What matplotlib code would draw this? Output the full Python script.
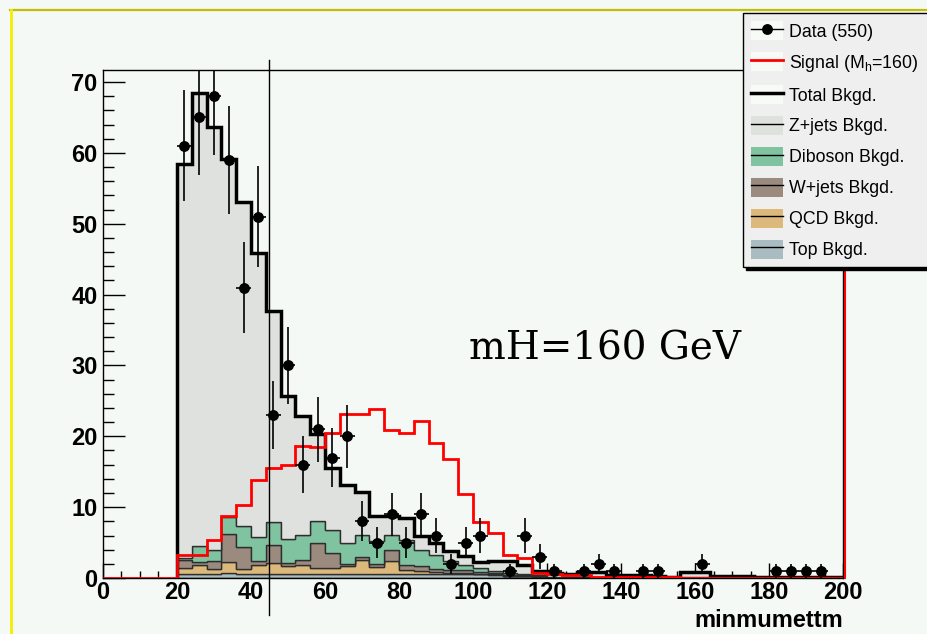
import numpy as np
import matplotlib
matplotlib.use("Agg")
import matplotlib.pyplot as plt
import matplotlib.transforms as mtransforms
from matplotlib.lines import Line2D
from matplotlib.patches import Patch
from matplotlib.legend_handler import HandlerTuple
from matplotlib.ticker import MultipleLocator

plt.rcParams["font.family"] = "Liberation Sans"
plt.rcParams["font.weight"] = "bold"
plt.rcParams["mathtext.fontset"] = "custom"
plt.rcParams["mathtext.rm"] = "Liberation Sans:weight=normal"
plt.rcParams["mathtext.it"] = "Liberation Sans:italic:weight=normal"

# binning: 4 GeV bins, backgrounds start at 20
BIN_W = 4
bkg_edges = np.arange(20, 201, BIN_W)
sig_edges = np.arange(0, 201, BIN_W)

data_counts = [61, 65, 68, 59, 41, 51, 23, 30, 16, 21, 17, 20, 8, 5, 9, 5, 9, 6, 2, 5,
               6, 0, 1, 6, 3, 1, 0, 1, 2, 1, 0, 1, 1, 0, 0, 2, 0, 0, 0, 0,
               1, 1, 1, 1, 0]

signal = [0, 0, 0, 0, 0,
          3.3, 3.3, 5.3, 8.8, 10.3, 13.8, 15.5, 15.9, 18.7, 18.5,
          20.4, 23.1, 23.1, 23.8, 20.9, 20.4, 22.2, 19.0, 16.8, 11.8,
          7.9, 6.3, 3.3, 2.8, 0.75, 0.6, 0.4, 0.4, 0.15, 0.15,
          0.1, 0.1, 0.1, 0.1, 0.05, 0.05, 0.05, 0.05, 0.05, 0.03,
          0.03, 0.03, 0.03, 0.03, 0.03]

top_bkg = [0.5, 0.5, 0.5, 0.75, 0.5, 0.5, 0.5, 0.5, 0.5, 0.5,
           0.5, 0.5, 0.5, 0.5, 0.6, 0.5, 0.5, 0.5, 0.5, 0.5,
           0.5, 0.4, 0.3, 0.3, 0.2, 0.1, 0.1, 0.1, 0.1, 0.1,
           0.1, 0.1, 0.1, 0.1, 0.1, 0.1, 0.1, 0.1, 0.1, 0.1,
           0.1, 0.1, 0.1, 0.1, 0.1]
qcd_bkg = [0.95, 1.3, 0.8, 1.55, 0.8, 1.3, 1.55, 1.2, 1.3, 0.9,
           0.9, 1.2, 2.0, 1.0, 1.8, 0.6, 0.5, 0.3, 0.2, 0.2,
           0.1, 0.1, 0.05, 0.05, 0.05, 0.01, 0.01, 0.01, 0.01, 0.01,
           0.01, 0.01, 0.01, 0.01, 0.01, 0.01, 0.01, 0.01, 0.01, 0.01,
           0.01, 0.01, 0.01, 0.01, 0.01]
wjets_bkg = [1.05, 0.5, 1.15, 3.9, 3.1, 0.6, 2.6, 0.4, 0.8, 3.5,
             2.2, 0.3, 0.4, 0.5, 1.55, 0.7, 0.7, 0.5, 0.4, 0.4,
             0.3, 0.2, 0.1, 0.1, 0.05, 0.02, 0.02, 0.02, 0.02, 0.02,
             0.02, 0.02, 0.02, 0.02, 0.02, 0.02, 0.02, 0.02, 0.02, 0.02,
             0.02, 0.02, 0.02, 0.02, 0.02]
diboson_bkg = [0.3, 2.2, 1.55, 2.4, 2.9, 3.4, 3.25, 3.4, 3.5, 3.2,
               3.2, 2.9, 3.2, 3.2, 2.1, 3.6, 2.25, 1.95, 1.3, 0.7,
               0.5, 0.3, 0.2, 0.15, 0.1, 0.03, 0.03, 0.03, 0.03, 0.03,
               0.03, 0.03, 0.03, 0.03, 0.03, 0.03, 0.03, 0.03, 0.03, 0.03,
               0.03, 0.03, 0.03, 0.03, 0.03]
zjets_bkg = [55.6, 63.9, 59.7, 50.5, 45.7, 40.1, 29.8, 20.2, 16.7, 12.2,
             8.7, 8.2, 6.1, 3.55, 2.75, 3.1, 1.95, 1.75, 1.4, 1.3,
             0.9, 1.4, 1.75, 1.2, 0.6, 0.54, 0.44, 0.74, 0.74, 0.24,
             0.24, 0.24, 0.14, 0.04, 0.74, 0.74, 0.14, 0.14, 0.14, 0.0,
             0.0, 0.0, 0.0, 0.0, 0.0]

cut_value = 45
n_data = 550

BG = "#f5f9f6"
EDGE = "#2e2e2e"

fig = plt.figure(figsize=(9.27, 6.34), dpi=100, facecolor=BG)
ax = fig.add_axes([0.1111, 0.0883, 0.7983, 0.8013], facecolor=BG)

# stacked backgrounds, bottom to top
layers = [
    ("Top Bkgd.", top_bkg, "#a8bcc2"),
    ("QCD Bkgd.", qcd_bkg, "#dcb97b"),
    ("W+jets Bkgd.", wjets_bkg, "#9b8b7f"),
    ("Diboson Bkgd.", diboson_bkg, "#7fc3a1"),
    ("Z+jets Bkgd.", zjets_bkg, "#dfe1de"),
]
lower = np.zeros(len(bkg_edges) - 1)
for name, vals, col in layers:
    upper = lower + np.asarray(vals)
    ax.stairs(upper, bkg_edges, baseline=lower, fill=True,
              facecolor=col, edgecolor=EDGE, lw=1.0, zorder=2)
    lower = upper
total = lower
ax.stairs(total, bkg_edges, baseline=0, color="black", lw=2.5, zorder=3)

# signal
ax.stairs(signal, sig_edges, baseline=None, color="red", lw=2, zorder=4)
off = mtransforms.ScaledTranslation(1.3 / 72, 0, fig.dpi_scale_trans)
ax.plot([sig_edges[-1]] * 2, [0, 1], transform=ax.get_xaxis_transform() + off,
        color="red", lw=1.5, clip_on=False, zorder=4)

# data
counts = np.asarray(data_counts, dtype=float)
centers = bkg_edges[:-1] + BIN_W / 2
m = counts > 0
ax.errorbar(centers[m], counts[m], yerr=np.sqrt(counts[m]), xerr=BIN_W / 2,
            fmt="o", color="black", ms=6.8, elinewidth=1.2, capsize=0, zorder=5)

# cut line
ax.plot([cut_value] * 2, [-0.073, 1.02], transform=ax.get_xaxis_transform(),
        color="black", lw=1, clip_on=False, zorder=6)

ax.text(99, 30.8, "mH=160 GeV", family="DejaVu Serif", fontweight="normal",
        fontsize=28, va="baseline")

ax.set_xlim(0, 200)
ax.set_ylim(0, 71.7)
ax.xaxis.set_major_locator(MultipleLocator(20))
ax.xaxis.set_minor_locator(MultipleLocator(5))
ax.yaxis.set_major_locator(MultipleLocator(10))
ax.yaxis.set_minor_locator(MultipleLocator(2))
ax.tick_params(axis="y", which="major", direction="in", length=15.8, width=1,
               labelsize=17, pad=4)
ax.tick_params(axis="y", which="minor", direction="in", length=7.9, width=1)
ax.tick_params(axis="x", which="major", direction="in", length=10.8, width=1,
               labelsize=17, pad=2)
ax.tick_params(axis="x", which="minor", direction="in", length=5.4, width=1)
ax.tick_params(top=False, right=False, which="both")
for s in ax.spines.values():
    s.set_linewidth(1)
ax.set_xlabel("minmumettm", fontsize=17, fontweight="bold", loc="right", labelpad=4)

# legend
white = "#f8faf8"
handles = [
    (Patch(fc=white, ec="none"), Line2D([], [], color="k", marker="o", ms=6.8, lw=1)),
    (Patch(fc=white, ec="none"), Line2D([], [], color="red", lw=2)),
    (Patch(fc=white, ec="none"), Line2D([], [], color="k", lw=2.5)),
]
labels = [f"Data ({n_data})", r"Signal (M$_{\rm h}$=160)", "Total Bkgd."]
for name, vals, col in reversed(layers):
    handles.append((Patch(fc=col, ec="none"), Line2D([], [], color="k", lw=1)))
    labels.append(name)

leg = fig.legend(handles, labels, loc="upper left",
                 bbox_to_anchor=(743 / 927, 0, 0.25, 1 - 13 / 634), mode="expand",
                 handler_map={tuple: HandlerTuple(ndivide=1, pad=0)},
                 prop={"size": 12.8, "weight": "normal"},
                 frameon=True, facecolor="#efefef", edgecolor="black",
                 framealpha=1, fancybox=False, borderpad=0.45,
                 labelspacing=0.635, handlelength=1.8, handleheight=1.3,
                 handletextpad=0.35, borderaxespad=0,
                 shadow={"color": "black", "alpha": 1})
leg.get_frame().set_linewidth(1)

# canvas border
fig.add_artist(Line2D([10 / 927, 1], [1 - 10 / 634] * 2, transform=fig.transFigure,
                      color="#c4bd00", lw=1.6))
fig.add_artist(Line2D([11 / 927] * 2, [0, 1 - 10 / 634], transform=fig.transFigure,
                      color="#f2f000", lw=2))

fig.savefig("out.png", dpi=100, facecolor=BG)
